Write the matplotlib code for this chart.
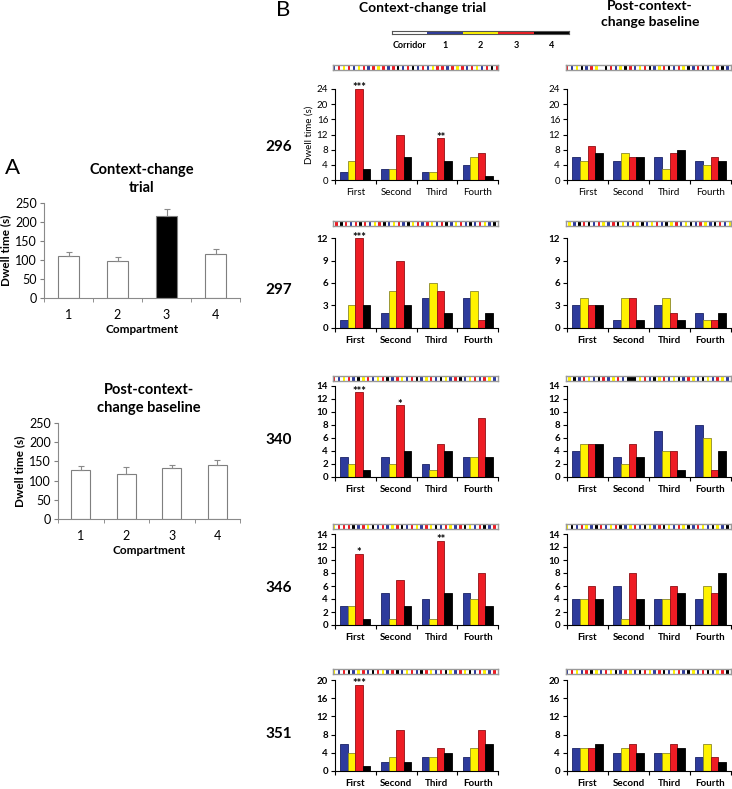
import numpy as np
import matplotlib.pyplot as plt

plt.rcParams['font.family'] = ['Lato', 'DejaVu Sans']

W, H = 732, 789

# ---- panel A data (mean dwell time, s) ----
compartments = ['1', '2', '3', '4']
cc_mean = [110, 97, 217, 115]
cc_err = [10, 10, 16, 13]
bl_mean = [128, 118, 132, 140]
bl_err = [10, 18, 8, 13]

# ---- panel B data : rows = visit, cols = compartment 1..4 ----
visits = ['First', 'Second', 'Third', 'Fourth']
rats = ['296', '297', '340', '346', '351']

cc_296 = [[2, 5, 24, 3], [3, 3, 12, 6], [2, 2, 11, 5], [4, 6, 7, 1]]
bl_296 = [[6, 5, 9, 7], [5, 7, 6, 6], [6, 3, 7, 8], [5, 4, 6, 5]]
cc_297 = [[1, 3, 12, 3], [2, 5, 9, 3], [4, 6, 5, 2], [4, 5, 1, 2]]
bl_297 = [[3, 4, 3, 3], [1, 4, 4, 1], [3, 4, 2, 1], [2, 1, 1, 2]]
cc_340 = [[3, 2, 13, 1], [3, 2, 11, 4], [2, 1, 5, 4], [3, 3, 9, 3]]
bl_340 = [[4, 5, 5, 5], [3, 2, 5, 3], [7, 4, 4, 1], [8, 6, 1, 4]]
cc_346 = [[3, 3, 11, 1], [5, 1, 7, 3], [4, 1, 13, 5], [5, 4, 8, 3]]
bl_346 = [[4, 4, 6, 4], [6, 1, 8, 4], [4, 4, 6, 5], [4, 6, 5, 8]]
cc_351 = [[6, 4, 19, 1], [2, 3, 9, 2], [3, 3, 5, 4], [3, 5, 9, 6]]
bl_351 = [[5, 5, 5, 6], [4, 5, 6, 4], [4, 4, 6, 5], [3, 6, 3, 2]]

stars_296 = {0: '***', 2: '**'}
stars_297 = {0: '***'}
stars_340 = {0: '***', 1: '*'}
stars_346 = {0: '*', 2: '**'}
stars_351 = {0: '***'}

ymax = {'296': 24, '297': 12, '340': 14, '346': 14, '351': 20}
ystep = {'296': 4, '297': 3, '340': 2, '346': 2, '351': 4}

# visit sequences (W corridor, B 1, Y 2, R 3, K 4)
seq_cc = {
    '296': 'BWRWYWRWBWYWRWBWRWYWRWBWRWKWBWRWKWBWRWBWYWRWRWBWRWYWRWBWRWYWBWRWKWR',
    '297': 'WRWKWRWBWRWKWRWBWYWRWKWBWYWRWBWKWYWRWBWRWYWBWRWKWBWYWRWBWKWBWRWYWBWKW',
    '340': 'RWBWYWRWBWKWYWRWBWYWRWKWBWRWYWBWRWKWBWYWRWBWKWYWBWRWKWBWYWRWBWRWYWBW',
    '346': 'YWRWRWRWKWBWRWYWKWBWRWBWYWRWKWBWRWYWBWRWYWKWBWRWYWBWRWKWYWBWRWKWBWRW',
    '351': 'YWBWRWKWBWYWRWBWKWRWYWBWRWKWBWYWRWBWKWRWYWBWRWKWYWBWRWYWKWBWRWYWBWRW',
}
seq_bl = {
    '296': 'RWBWYWKWBWRWYWWWKWRWBWYWKWRWBWYWRWKWBWYWRWKWBWRWYWKWBWRWKWBWYWRWKWBW',
    '297': 'WYWBWKWRWKWBWRWYWBWRWKWYWBWRWYWKWBWYWRWBWKWYWRWBWYWKWBWRWYWBWKWRWBWY',
    '340': 'WYWKWBWRWYWBWKWRWBWYWRWBWKKKKWYWRWBWKWYWRWBWYWKWBWRWYWBWKWYWBWRWYWBW',
    '346': 'YWKWBWRWYWBWKWRWBWYWRWKWBWYWRWBWKWYWBWRWKWYWBWRWYWKWBWRWYWBWKWYWBWKW',
    '351': 'BWRWYWBWRWKWYWBWRWYWKWBWRWYWBWKWRWYWBWRWKWBWYWRWBWKWYWBWRWKWBWYWRWKW',
}

cc_data = {'296': cc_296, '297': cc_297, '340': cc_340, '346': cc_346, '351': cc_351}
bl_data = {'296': bl_296, '297': bl_297, '340': bl_340, '346': bl_346, '351': bl_351}
stars = {'296': stars_296, '297': stars_297, '340': stars_340, '346': stars_346, '351': stars_351}

fills = ['#2E3B9C', '#FFF200', '#EE1C24', '#000000']
edges = ['#1A2366', '#8C8A2A', '#8E1015', '#000000']
code_col = {'W': '#FFFFFF', 'B': '#2E3B9C', 'Y': '#FFF200', 'R': '#EE1C24', 'K': '#000000'}


def px_axes(fig, x0, x1, y0, y1):
    return fig.add_axes([x0 / W, 1 - y1 / H, (x1 - x0) / W, (y1 - y0) / H])


def strip(fig, seq, x0, x1, yc, h=5):
    ax = px_axes(fig, x0, x1, yc - h / 2, yc + h / 2)
    ax.set_zorder(0)
    ax.barh(0, [1] * len(seq), left=np.arange(len(seq)), height=1,
            color=[code_col[c] for c in seq], linewidth=0)
    ax.set_xlim(0, len(seq))
    ax.set_ylim(-0.5, 0.5)
    ax.set_xticks([])
    ax.set_yticks([])
    for s in ax.spines.values():
        s.set_color('#9a9a9a')
        s.set_linewidth(1.0)
    return ax


fig = plt.figure(figsize=(W / 100, H / 100), dpi=100)

# ---------------- panel A ----------------
def panel_a(x0, x1, y0, y1, means, errs, title, barcols):
    ax = px_axes(fig, x0, x1, y0, y1)
    xs = np.arange(4)
    ax.bar(xs, means, width=0.42, color=barcols, edgecolor='#7f7f7f', linewidth=0.8,
           yerr=[[0] * 4, errs], ecolor='#8a8a8a', capsize=2,
           error_kw={'elinewidth': 0.8, 'capthick': 0.8})
    ax.set_xlim(-0.5, 3.5)
    ax.set_ylim(0, 250)
    ax.set_yticks(range(0, 251, 50))
    ax.set_xticks(xs)
    ax.set_xticklabels(compartments)
    ax.set_xticks(np.arange(-0.5, 4, 1), minor=True)
    ax.tick_params(axis='x', which='major', length=0, labelsize=9, pad=8)
    ax.tick_params(axis='x', which='minor', length=3, direction='out', color='#7f7f7f')
    ax.tick_params(axis='y', length=3, direction='out', color='#7f7f7f', labelsize=9, pad=2)
    for s in ['top', 'right']:
        ax.spines[s].set_visible(False)
    for s in ['left', 'bottom']:
        ax.spines[s].set_color('#8a8a8a')
    ax.set_ylabel('Dwell time (s)', fontsize=8.5, fontweight='bold', labelpad=3)
    ax.set_xlabel('Compartment', fontsize=8.5, fontweight='bold', labelpad=2)
    ax.set_title(title, fontsize=10.5, fontweight='bold', linespacing=1.35, pad=8)
    return ax


panel_a(44, 240, 203, 298, cc_mean, cc_err, 'Context-change\ntrial',
        ['white', 'white', 'black', 'white'])
panel_a(58, 240, 423, 519, bl_mean, bl_err, 'Post-context-\nchange baseline',
        ['white'] * 4)

fig.text(5 / W, 1 - 168 / H, 'A', fontsize=16, va='center', ha='left')
fig.text(283 / W, 1 - 10 / H, 'B', fontsize=16, va='center', ha='center')

# ---------------- panel B ----------------
fig.text(423 / W, 1 - 8 / H, 'Context-change trial', fontsize=10, fontweight='bold',
         ha='center', va='center')
fig.text(650 / W, 1 - 14 / H, 'Post-context-\nchange baseline', fontsize=10,
         fontweight='bold', ha='center', va='center', linespacing=1.45)

# colour key
key = px_axes(fig, 392, 569, 30.5, 33.5)
key_codes = ['W', 'B', 'Y', 'R', 'K']
key_labels = ['Corridor', '1', '2', '3', '4']
key.barh(0, [1] * 5, left=np.arange(5), height=1,
         color=[code_col[c] for c in key_codes], linewidth=0)
key.set_xlim(0, 5)
key.set_ylim(-0.5, 0.5)
key.set_xticks([])
key.set_yticks([])
for s in key.spines.values():
    s.set_color('#555555')
    s.set_linewidth(0.8)
for i, lab in enumerate(key_labels):
    fig.text((392 + (i + 0.5) * 177 / 5) / W, 1 - 45 / H, lab, fontsize=6.5,
             fontweight='bold', ha='center', va='center')

# axes top, axes bottom, strip centre, row label centre (pixels)
rows_px = {'296': (89, 180, 67, 147), '297': (238, 328, 223, 290),
           '340': (386, 477, 378, 440), '346': (534, 625, 526, 588),
           '351': (680, 771, 671, 734)}


def panel_b(x0, x1, y0, y1, vals, rat, st, bold, ylabel):
    ax = px_axes(fig, x0, x1, y0, y1)
    ax.set_zorder(2)
    ax.patch.set_visible(False)
    vals = np.array(vals)
    bw = 0.185
    for j in range(4):
        ax.bar(np.arange(4) + (j - 1.5) * bw, vals[:, j], width=bw,
               color=fills[j], edgecolor=edges[j], linewidth=0.6)
    for i, s in st.items():
        ax.annotate(s, (i + 0.5 * bw, vals[i, 2]), xytext=(0, -1.8),
                    textcoords='offset points', ha='center', va='baseline',
                    fontsize=8, fontweight='bold', annotation_clip=False)
    w = 'bold' if bold else 'normal'
    ax.set_xlim(-0.5, 3.5)
    ax.set_ylim(0, ymax[rat])
    ax.set_yticks(range(0, ymax[rat] + 1, ystep[rat]))
    ax.set_xticks(range(4))
    ax.set_xticklabels(visits, fontweight=w)
    for t in ax.get_yticklabels():
        t.set_fontweight(w)
    ax.set_xticks(np.arange(-0.5, 4, 1), minor=True)
    ax.tick_params(axis='x', which='major', length=0, labelsize=7, pad=5.5)
    ax.tick_params(axis='x', which='minor', length=3, direction='out', width=0.8)
    ax.tick_params(axis='y', length=3, direction='out', width=0.8, labelsize=7, pad=2)
    for s in ['top', 'right']:
        ax.spines[s].set_visible(False)
    ax.spines['left'].set_linewidth(0.8)
    ax.spines['bottom'].set_linewidth(0.8)
    if ylabel:
        ax.set_ylabel('Dwell time (s)', fontsize=7, labelpad=2)
    return ax


for rat in rats:
    y0, y1, yc, yl = rows_px[rat]
    bold = rat != '296'
    panel_b(335, 498, y0, y1, cc_data[rat], rat, stars[rat], bold, rat == '296')
    panel_b(567, 731, y0, y1, bl_data[rat], rat, {}, bold, False)
    strip(fig, seq_cc[rat], 333, 498, yc)
    strip(fig, seq_bl[rat], 566, 731, yc)
    fig.text(279 / W, 1 - yl / H, rat, fontsize=11, fontweight='bold',
             ha='center', va='center')

fig.savefig('out.png', dpi=100)
